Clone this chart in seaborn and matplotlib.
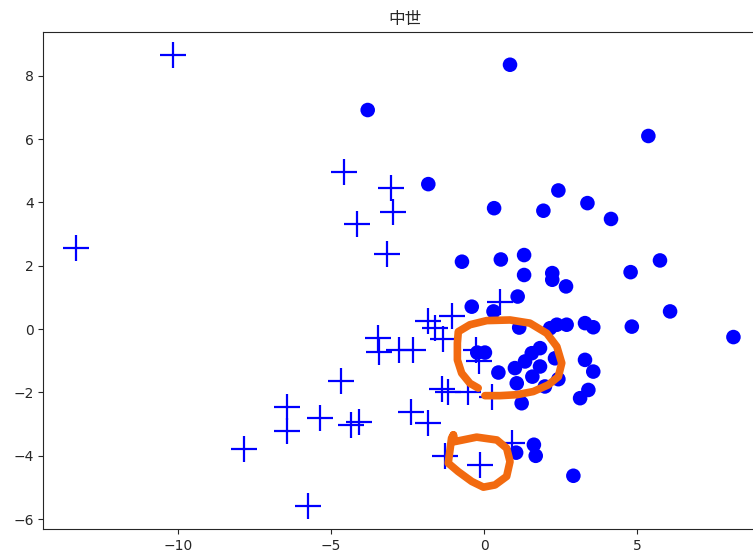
import matplotlib
matplotlib.use("Agg")
import matplotlib.pyplot as plt
import seaborn as sns
import pandas as pd

# points
cross_x = [-10.15, -13.33, -4.57, -4.15, -3.05, -2.98, -3.16, -3.47, -3.43, -2.78,
           -2.31, -4.67, -6.43, -6.43, -5.36, -4.36, -4.07, -7.84, -5.75, -2.39,
           -1.82, -1.36, -1.17, -1.27, -0.13, 0.90, 0.52, -1.06, -1.82, -1.60,
           -1.33, -0.26, -0.15, -0.51, 0.25]
cross_y = [8.66, 2.56, 4.96, 3.33, 4.45, 3.71, 2.36, -0.29, -0.71, -0.65,
           -0.65, -1.65, -2.46, -3.22, -2.82, -3.02, -2.93, -3.77, -5.60, -2.61,
           -2.95, -1.89, -1.99, -4.00, -4.28, -3.58, 0.87, 0.42, 0.26, 0.03,
           -0.30, -0.65, -1.02, -1.97, -2.15]

dot_x = [0.85, -3.80, 5.37, -1.82, 0.33, 1.94, 2.43, 3.38, 4.15, -0.72,
         0.55, 1.31, 1.31, 2.23, 2.23, 4.79, 5.75, 2.68, 1.10, -0.40,
         0.31, 6.08, 8.15, 4.83, 1.15, 2.16, 2.38, 2.70, 3.30, 3.57,
         -0.22, 0.03, 0.47, 1.01, 1.34, 1.56, 1.83, 1.83, 1.58, 1.07,
         1.99, 2.32, 2.43, 3.30, 3.57, 3.41, 3.14, 1.23, 1.05, 1.63,
         1.69, 2.92]
dot_y = [8.35, 6.92, 6.10, 4.58, 3.82, 3.74, 4.38, 3.98, 3.48, 2.13,
         2.20, 2.34, 1.71, 1.77, 1.56, 1.80, 2.17, 1.35, 1.03, 0.71,
         0.56, 0.56, -0.25, 0.08, 0.05, 0.03, 0.14, 0.14, 0.19, 0.06,
         -0.74, -0.74, -1.37, -1.23, -1.02, -0.76, -0.60, -1.18, -1.50, -1.71,
         -1.81, -0.92, -1.58, -0.97, -1.34, -1.92, -2.18, -2.34, -3.90, -3.65,
         -4.00, -4.63]

# hand-drawn orange marks (data coordinates)
loop1_x = [-0.19, -0.46, -0.73, -0.87, -0.87, -0.84, -0.46, 0.09, 0.85, 1.50,
           2.05, 2.38, 2.54, 2.43, 2.10, 1.61, 1.07, 0.52, 0.03]
loop1_y = [-1.86, -1.71, -1.39, -0.97, -0.44, -0.08, 0.14, 0.27, 0.29, 0.19,
           -0.13, -0.55, -1.07, -1.50, -1.76, -1.97, -2.07, -2.10, -2.10]
loop2_x = [-1.00, -0.95, -0.24, 0.42, 0.74, 0.85, 0.74, 0.36, -0.02, -0.40,
           -0.84, -1.17, -1.11, -1.06, -1.00]
loop2_y = [-3.34, -3.55, -3.41, -3.50, -3.76, -4.18, -4.65, -4.92, -4.99, -4.81,
           -4.50, -4.23, -3.81, -3.44, -3.34]

sns.set_style("ticks")
plt.rcParams['font.family'] = ['DejaVu Sans', 'Noto Sans CJK JP']

fig = plt.figure(figsize=(7.53, 5.53), dpi=100)
ax = fig.add_axes([0.0575, 0.0429, 0.96, 0.899])

crosses = pd.DataFrame({"x": cross_x, "y": cross_y})
dots = pd.DataFrame({"x": dot_x, "y": dot_y})

sns.scatterplot(data=dots, x="x", y="y", ax=ax, color="#0000ff", marker="o",
                s=110, edgecolor="none", zorder=3)
sns.scatterplot(data=crosses, x="x", y="y", ax=ax, color="#0000ff", marker="+",
                s=330, linewidth=1.6, zorder=4)

for lx, ly in [(loop1_x, loop1_y), (loop2_x, loop2_y)]:
    ln = sns.lineplot(x=lx, y=ly, ax=ax, sort=False, estimator=None,
                      color="#f26a10", linewidth=5.5, zorder=6)
for line in ax.lines:
    line.set_solid_capstyle("round")
    line.set_solid_joinstyle("round")

ax.set_xlim(-14.4, 9.22)
ax.set_ylim(-6.32, 9.38)
ax.set_xticks([-10, -5, 0, 5])
ax.set_yticks([-6, -4, -2, 0, 2, 4, 6, 8])
ax.set_xlabel("")
ax.set_ylabel("")
ax.tick_params(labelsize=10)
ax.set_title("中世", fontsize=12, family=['Noto Sans CJK JP', 'DejaVu Sans'])

fig.savefig("out.png", dpi=100)
